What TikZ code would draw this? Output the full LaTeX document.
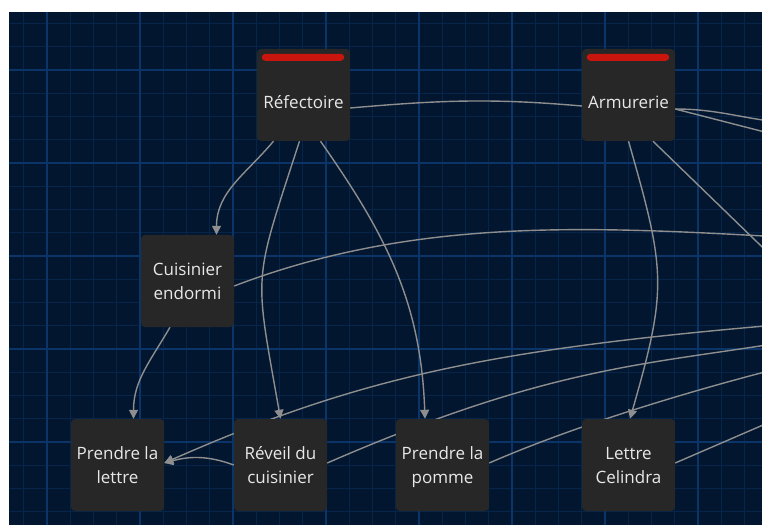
\documentclass[tikz,border=0pt]{standalone}
\usepackage{fontspec}
\setmainfont{Open Sans}
\usetikzlibrary{arrows.meta}

\definecolor{mapbg}{HTML}{021630}
\definecolor{minorgrid}{HTML}{072548}
\definecolor{majorgrid}{HTML}{0B3468}
\definecolor{cardgrey}{HTML}{272727}
\definecolor{cardtext}{HTML}{E8E8E8}
\definecolor{linkgrey}{HTML}{8E8E8E}
\definecolor{tagred}{HTML}{C8150E}

\pgfdeclarelayer{grid}
\pgfdeclarelayer{links}
\pgfsetlayers{grid,links,main}

\tikzset{
  passagetext/.style={text=cardtext, align=center, font=\fontsize{17}{24}\selectfont},
  passage/.style={passagetext, fill=cardgrey, rounded corners=4pt, text depth=-3pt,
    minimum width=93pt, minimum height=92pt, inner sep=0pt},
  link/.style={draw=linkgrey, line width=1.4pt, -{Triangle[length=9pt,width=9pt]}},
  deadlink/.style={draw=linkgrey, line width=1.4pt},
  tagbar/.style={fill=tagred, rounded corners=3.5pt},
  minorline/.style={draw=minorgrid, line width=1pt},
  majorline/.style={draw=majorgrid, line width=1.6pt}
}

\begin{document}
\begin{tikzpicture}[x=1pt,y=1pt]
   \useasboundingbox (0,0) rectangle (762,525);

   % Passages
   \node[passage, label={[passagetext, yshift=-7pt]center:Réfectoire}] (refectoire) at (303.5,430) {};
   \node[passage, label={[passagetext, yshift=-7pt]center:Armurerie}] (armurerie) at (628.5,430) {};
   \node[passage] (cuisinier) at (187.5,244) {Cuisinier\\endormi};
   \node[passage] (lettre) at (117.5,60) {Prendre la\\lettre};
   \node[passage] (reveil) at (280.5,60) {Réveil du\\cuisinier};
   \node[passage] (pomme) at (442.5,60) {Prendre la\\pomme};
   \node[passage] (celindra) at (628.5,60) {Lettre\\Celindra};

   % Tags
   \foreach \p in {refectoire,armurerie}
       \fill[tagbar] ([xshift=5pt,yshift=-5pt]\p.north west) rectangle ([xshift=-6pt,yshift=-12pt]\p.north east);

   % Passages outside the view
   \coordinate (offA) at (800,202);
   \coordinate (offB) at (800,185.4);
   \coordinate (offC) at (800,162);
   \coordinate (offD) at (800,116);
   \coordinate (offE) at (800,287);
   \coordinate (offF) at (790,251);
   \coordinate (offG) at (790,402);
   \coordinate (offH) at (790,386.5);

   % Grid
   \begin{pgfonlayer}{grid}
       \fill[white] (0,0) rectangle (762,525);
       \fill[mapbg] (9,0) rectangle (762,513);
       \begin{scope}
           \clip (9,0) rectangle (762,513);
           \foreach \k in {1,...,32}
               \draw[minorline] ({0.5+23.25*\k},0) -- ++(0,513);
           \foreach \k in {1,...,22}
               \draw[minorline] (9,{525-0.25-23.25*\k}) -- ++(753,0);
           \foreach \k in {0,...,7}
               \draw[majorline] ({47+93*\k},0) -- ++(0,513);
           \foreach \k in {0,...,4}
               \draw[majorline] (9,{455-93*\k}) -- ++(753,0);
       \end{scope}
   \end{pgfonlayer}

   % Links
   \begin{pgfonlayer}{links}
       \clip (9,0) rectangle (762,513);
       % from Réfectoire
       \draw[link] ([xshift=-30pt]refectoire.south) to[out=-130,in=90] ([xshift=29pt]cuisinier.north);
       \draw[link] ([xshift=-4pt]refectoire.south) to[out=-108,in=100,looseness=1.4] (reveil.north);
       \draw[link] ([xshift=17pt]refectoire.south) to[out=-55,in=92] ([xshift=-17.5pt]pomme.north);
       \draw[deadlink] ([yshift=-13pt]refectoire.east) to[out=5,in=175] ([yshift=-11pt]armurerie.west);
       % from Armurerie
       \draw[link] (armurerie.south) to[out=-74,in=74,looseness=1.25] ([xshift=1.5pt]celindra.north);
       \draw[deadlink] ([xshift=24.5pt]armurerie.south) -- (offF);
       \draw[deadlink] ([yshift=-14pt]armurerie.east) to[out=0,in=176] (offG);
       \draw[deadlink] ([yshift=-14pt]armurerie.east) -- (offH);
       % from Cuisinier endormi
       \draw[deadlink] ([yshift=-5pt]cuisinier.east) .. controls (420,310) and (600,298) .. (offE);
       \draw[link] ([xshift=-17.5pt]cuisinier.south) to[out=-120,in=90] ([xshift=16pt]lettre.north);
       % bottom row
       \draw[link] (offA) .. controls (500,177) and (366,151) .. ([yshift=2pt]lettre.east);
       \draw[link] (reveil.west) to[out=160,in=15] ([yshift=2pt]lettre.east);
       \draw[deadlink] ([yshift=2pt]reveil.east) .. controls (556,161.5) and (650,160) .. (offB);
       \draw[deadlink] ([yshift=2pt]pomme.east) .. controls (581,102) and (703,138) .. (offC);
       \draw[deadlink] ([yshift=2pt]celindra.east) -- (offD);
   \end{pgfonlayer}
\end{tikzpicture}
\end{document}
